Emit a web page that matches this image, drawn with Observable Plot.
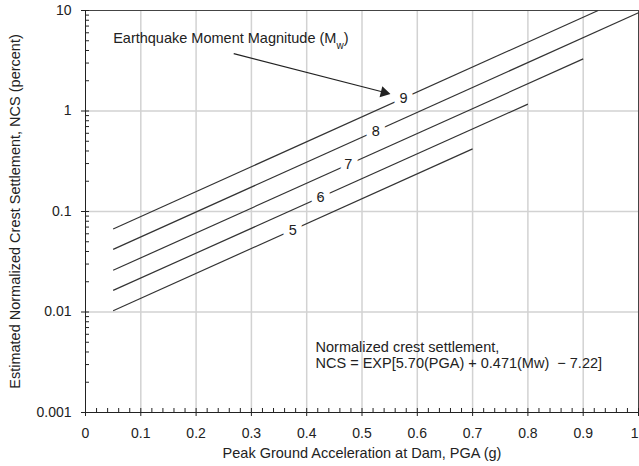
<!DOCTYPE html>
<html>
<head>
<meta charset="utf-8">
<script src="https://cdn.jsdelivr.net/npm/d3@7"></script>
<script src="https://cdn.jsdelivr.net/npm/@observablehq/plot@0.6"></script>
<style>
  html, body { margin: 0; padding: 0; background: white; }
</style>
</head>
<body>
<div id="chart"></div>
<script>
// ---- Data ----
const magnitudes = [5, 6, 7, 8, 9];
const pgaStart   = [0.05, 0.05, 0.05, 0.05, 0.05];
const ncsStart   = [0.0103, 0.0164, 0.026, 0.042, 0.067];
const pgaEnd     = [0.70, 0.80, 0.90, 1.00, 0.927];
const ncsEnd     = [0.42, 1.17, 3.3, 9.5, 10];
const labelPga   = [0.375, 0.425, 0.475, 0.525, 0.575];
const labelNcs   = [0.0654, 0.139, 0.297, 0.632, 1.34];

const xTicks = [0, 0.1, 0.2, 0.3, 0.4, 0.5, 0.6, 0.7, 0.8, 0.9, 1];
const xTickLabels = ["0", "0.1", "0.2", "0.3", "0.4", "0.5", "0.6", "0.7", "0.8", "0.9", "1"];
const yTicks = [0.001, 0.01, 0.1, 1, 10];
const yTickLabels = ["0.001", "0.01", "0.1", "1", "10"];
const xGrid = [0.1, 0.2, 0.3, 0.4, 0.5, 0.6, 0.7, 0.8, 0.9];
const yGrid = [0.01, 0.1, 1];

const xTitle = "Peak Ground Acceleration at Dam, PGA (g)";
const yTitle = "Estimated Normalized Crest Settlement, NCS (percent)";
const annotation = "Earthquake Moment Magnitude (Mw)";
const formulaLines = ["Normalized crest settlement,", "NCS = EXP[5.70(PGA) + 0.471(Mw)  \u2212 7.22]"];

// minor ticks
const xMinor = d3.range(0, 1.0001, 0.02).filter(v => Math.abs(v * 10 - Math.round(v * 10)) > 1e-6);
const yMinor = [];
for (const dec of [0.001, 0.01, 0.1, 1]) for (let k = 2; k <= 9; k++) yMinor.push(dec * k);

const lines = magnitudes.map((m, i) => ({m, x1: pgaStart[i], y1: ncsStart[i], x2: pgaEnd[i], y2: ncsEnd[i], lx: labelPga[i], ly: labelNcs[i]}));

const ink = "#222";
const lineColor = "#333";
const gridColor = "#d2d2d2";
const fs = 14.5;
const tfs = 14;

const lastIdx = xTicks.length - 1;

const chart = Plot.plot({
  width: 639,
  height: 466,
  marginTop: 10,
  marginBottom: 54,
  marginLeft: 85,
  marginRight: 1,
  style: {fontFamily: "'Liberation Sans', Arial, sans-serif", fontSize: "14px", background: "white", color: ink},
  x: {domain: [0, 1], axis: null},
  y: {type: "log", domain: [0.001, 10], axis: null},
  marks: [
    Plot.ruleX(xGrid, {x: d => d, stroke: gridColor, strokeWidth: 1.5}),
    Plot.ruleY(yGrid, {y: d => d, stroke: gridColor, strokeWidth: 1.5}),
    Plot.frame({stroke: "#444"}),
    // axis lines
    Plot.ruleX([0], {x: d => d, stroke: ink}),
    Plot.ruleY([0.001], {y: d => d, stroke: ink}),
    // major ticks (crossing the axis)
    Plot.ruleX(xTicks, {x: d => d, y1: 0.001, y2: 0.001, insetTop: -4, insetBottom: -4, stroke: ink}),
    Plot.ruleY(yTicks, {y: d => d, x1: 0, x2: 0, insetLeft: -4, insetRight: -4, stroke: ink}),
    // minor ticks (inside)
    Plot.ruleX(xMinor, {x: d => d, y1: 0.001, y2: 0.001, insetTop: -4, insetBottom: 0, stroke: ink}),
    Plot.ruleY(yMinor, {y: d => d, x1: 0, x2: 0, insetLeft: 0, insetRight: -4, stroke: ink}),
    // tick labels
    Plot.text(xTicks.slice(0, lastIdx), {x: d => d, y: 0.001, text: (d, i) => xTickLabels[i], dy: 21, fill: ink, fontSize: tfs}),
    Plot.text([xTicks[lastIdx]], {x: d => d, y: 0.001, text: () => xTickLabels[lastIdx], textAnchor: "end", dx: 0, dy: 21, fill: ink, fontSize: tfs}),
    Plot.text(yTicks, {x: 0, y: d => d, text: (d, i) => yTickLabels[i], textAnchor: "end", dx: -14, fill: ink, fontSize: tfs}),
    // axis titles
    Plot.text([xTitle], {frameAnchor: "bottom", textAnchor: "middle", lineAnchor: "middle", dy: 41, fill: ink, fontSize: fs}),
    Plot.text([yTitle], {frameAnchor: "left", textAnchor: "middle", lineAnchor: "middle", dx: -70, rotate: -90, fill: ink, fontSize: fs}),
    // settlement lines
    Plot.link(lines, {x1: "x1", y1: "y1", x2: "x2", y2: "y2", stroke: lineColor, strokeWidth: 1.2}),
    // magnitude labels with white knock-out
    Plot.text(lines, {x: "lx", y: "ly", text: d => String(d.m), fill: ink, stroke: "white", strokeWidth: 12, fontSize: fs}),
    // annotation arrow
    Plot.link([{x1: 0.268, y1: 3.72, x2: 0.545, y2: 1.51}], {x1: "x1", y1: "y1", x2: "x2", y2: "y2", stroke: ink, strokeWidth: 1.2}),
    Plot.dot([{x: 0.540, y: 1.53}], {x: "x", y: "y", symbol: "triangle", r: 4.2, fill: ink, stroke: "none", rotate: 104}),
    Plot.text([annotation], {x: 0.05, y: 5.25, textAnchor: "start", fill: ink, fontSize: fs}),
    // formula
    Plot.text([formulaLines[0]], {x: 0.416, y: 0.00447, textAnchor: "start", fill: ink, fontSize: fs}),
    Plot.text([formulaLines[1]], {x: 0.416, y: 0.00309, textAnchor: "start", fill: ink, fontSize: fs})
  ]
});

// subscript "w" in the annotation
d3.select(chart).selectAll("text").each(function () {
  if (this.textContent === annotation) {
    const t = d3.select(this);
    t.text("Earthquake Moment Magnitude (M");
    t.append("tspan").attr("baseline-shift", "sub").attr("font-size", "10px").text("w");
    t.append("tspan").text(")");
  }
});

document.getElementById("chart").appendChild(chart);
</script>
</body>
</html>
